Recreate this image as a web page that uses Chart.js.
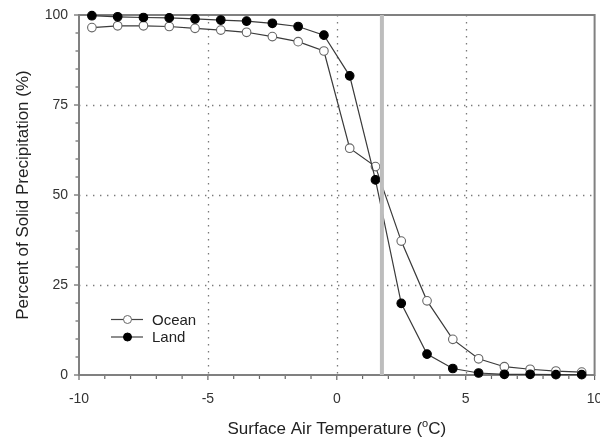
<!DOCTYPE html>
<html>
<head>
<meta charset="utf-8">
<script src="https://cdn.jsdelivr.net/npm/chart.js@4"></script>
<style>
  html, body { margin: 0; padding: 0; background: #fff; }
</style>
</head>
<body>
<canvas id="chart" width="600" height="443"></canvas>
<script>
// surface air temperature bins (°C)
const temps = [-9.5, -8.5, -7.5, -6.5, -5.5, -4.5, -3.5, -2.5, -1.5, -0.5,
               0.5, 1.5, 2.5, 3.5, 4.5, 5.5, 6.5, 7.5, 8.5, 9.5];
// percent of precipitation falling as snow
const ocean = [96.5, 97.0, 97.0, 96.8, 96.3, 95.8, 95.2, 94.0, 92.6, 90.0,
               63.0, 57.9, 37.2, 20.6, 9.9, 4.5, 2.3, 1.6, 1.1, 0.8];
const land  = [99.8, 99.5, 99.3, 99.2, 98.9, 98.6, 98.3, 97.7, 96.8, 94.4,
               83.1, 54.2, 19.9, 5.8, 1.8, 0.55, 0.2, 0.2, 0.1, 0.1];
const xTicks = [-10, -5, 0, 5, 10];
const yTicks = [0, 25, 50, 75, 100];
const xGrid = [-5, 0, 5];
const yGrid = [25, 50, 75];
const threshold = 1.75;   // 50% crossover

const FONT = "'Liberation Sans', Arial, sans-serif";
const toPoints = vals => temps.map((t, i) => ({ x: t, y: vals[i] }));

function seg(ctx, x1, y1, x2, y2) {
  ctx.beginPath();
  ctx.moveTo(x1, y1);
  ctx.lineTo(x2, y2);
  ctx.stroke();
}

// frame, dotted grid, minor ticks, threshold bar, legend and axis titles
const decor = {
  id: 'decor',
  beforeDatasetsDraw(chart) {
    const { ctx, chartArea: a, scales: { x, y } } = chart;
    ctx.save();
    ctx.strokeStyle = '#7a7a7a';
    ctx.lineWidth = 1.3;
    ctx.setLineDash([1.4, 5.6]);
    xGrid.forEach(v => {
      const px = Math.round(x.getPixelForValue(v)) + 0.5;
      seg(ctx, px, a.top, px, a.bottom);
    });
    yGrid.forEach(v => {
      const py = Math.round(y.getPixelForValue(v)) + 0.5;
      seg(ctx, a.left, py, a.right, py);
    });
    ctx.setLineDash([]);

    // ticks
    ctx.strokeStyle = '#666';
    ctx.lineWidth = 1.2;
    for (let v = -10; v <= 10; v++) {
      const px = x.getPixelForValue(v);
      seg(ctx, px, a.bottom, px, a.bottom + (v % 5 === 0 ? 5 : 4));
    }
    for (let v = 0; v <= 100; v += 5) {
      const py = y.getPixelForValue(v);
      seg(ctx, a.left, py, a.left - (v % 25 === 0 ? 5 : 3.5), py);
    }

    // box
    ctx.strokeStyle = '#808080';
    ctx.lineWidth = 2;
    ctx.strokeRect(a.left, a.top, a.right - a.left, a.bottom - a.top);
    ctx.restore();
  },
  afterDatasetsDraw(chart) {
    const { ctx, chartArea: a, scales: { x, y } } = chart;
    ctx.save();
    // threshold bar
    ctx.fillStyle = '#bdbdbd';
    const bx = x.getPixelForValue(threshold);
    ctx.fillRect(bx - 2, a.top, 4, a.bottom - a.top);

    // legend
    const rows = [
      { label: 'Ocean', fill: '#fff', stroke: '#666', y: 319.5 },
      { label: 'Land', fill: '#000', stroke: '#000', y: 337 }
    ];
    ctx.font = '15px ' + FONT;
    ctx.textBaseline = 'middle';
    ctx.textAlign = 'left';
    rows.forEach(r => {
      ctx.strokeStyle = '#444';
      ctx.lineWidth = 1.2;
      seg(ctx, 111, r.y, 143, r.y);
      ctx.beginPath();
      ctx.arc(127.5, r.y, 4, 0, Math.PI * 2);
      ctx.fillStyle = r.fill;
      ctx.fill();
      ctx.strokeStyle = r.stroke;
      ctx.lineWidth = 1;
      ctx.stroke();
      ctx.fillStyle = '#222';
      ctx.fillText(r.label, 152, r.y + 1);
    });

    // x title with superscript degree
    const cx = (a.left + a.right) / 2;
    const ty = 428;
    const t1 = 'Surface Air Temperature (';
    const t2 = 'o';
    const t3 = 'C)';
    ctx.font = '17px ' + FONT;
    const w1 = ctx.measureText(t1).width;
    const w3 = ctx.measureText(t3).width;
    ctx.font = '11px ' + FONT;
    const w2 = ctx.measureText(t2).width;
    let sx = cx - (w1 + w2 + w3) / 2;
    ctx.fillStyle = '#222';
    ctx.textBaseline = 'alphabetic';
    ctx.font = '17px ' + FONT;
    ctx.fillText(t1, sx, ty + 6);
    ctx.font = '11px ' + FONT;
    ctx.fillText(t2, sx + w1, ty - 1);
    ctx.font = '17px ' + FONT;
    ctx.fillText(t3, sx + w1 + w2, ty + 6);

    // y title
    ctx.translate(23, (a.top + a.bottom) / 2);
    ctx.rotate(-Math.PI / 2);
    ctx.textAlign = 'center';
    ctx.textBaseline = 'middle';
    ctx.fillText('Percent of Solid Precipitation (%)', 0, 0);
    ctx.restore();
  }
};

const seriesStyle = {
  showLine: true,
  borderColor: '#3a3a3a',
  borderWidth: 1.2,
  pointRadius: 4.3,
  pointBorderWidth: 1.1,
  clip: false
};

new Chart(document.getElementById('chart'), {
  type: 'scatter',
  data: {
    datasets: [
      Object.assign({ label: 'Ocean', data: toPoints(ocean),
        pointBackgroundColor: '#fff', pointBorderColor: '#666', order: 2 }, seriesStyle),
      Object.assign({ label: 'Land', data: toPoints(land),
        pointBackgroundColor: '#000', pointBorderColor: '#000', order: 1 }, seriesStyle)
    ]
  },
  options: {
    responsive: false,
    animation: false,
    layout: { padding: { top: 15, right: 5, left: 0, bottom: 0 } },
    plugins: { legend: { display: false }, tooltip: { enabled: false } },
    scales: {
      x: {
        type: 'linear', min: -10, max: 10,
        grid: { display: false },
        border: { display: false },
        afterBuildTicks: s => { s.ticks = xTicks.map(v => ({ value: v })); },
        ticks: { font: { size: 14, family: FONT }, color: '#333', padding: 8, maxRotation: 0 },
        afterFit: s => { s.height = 68; s.paddingLeft = 0; s.paddingRight = 0; }
      },
      y: {
        min: 0, max: 100,
        grid: { display: false },
        border: { display: false },
        afterBuildTicks: s => { s.ticks = yTicks.map(v => ({ value: v })); },
        ticks: { font: { size: 14, family: FONT }, color: '#333', padding: 3 },
        afterFit: s => { s.width = 79; s.paddingTop = 0; s.paddingBottom = 0; }
      }
    }
  },
  plugins: [decor]
});
</script>
</body>
</html>
